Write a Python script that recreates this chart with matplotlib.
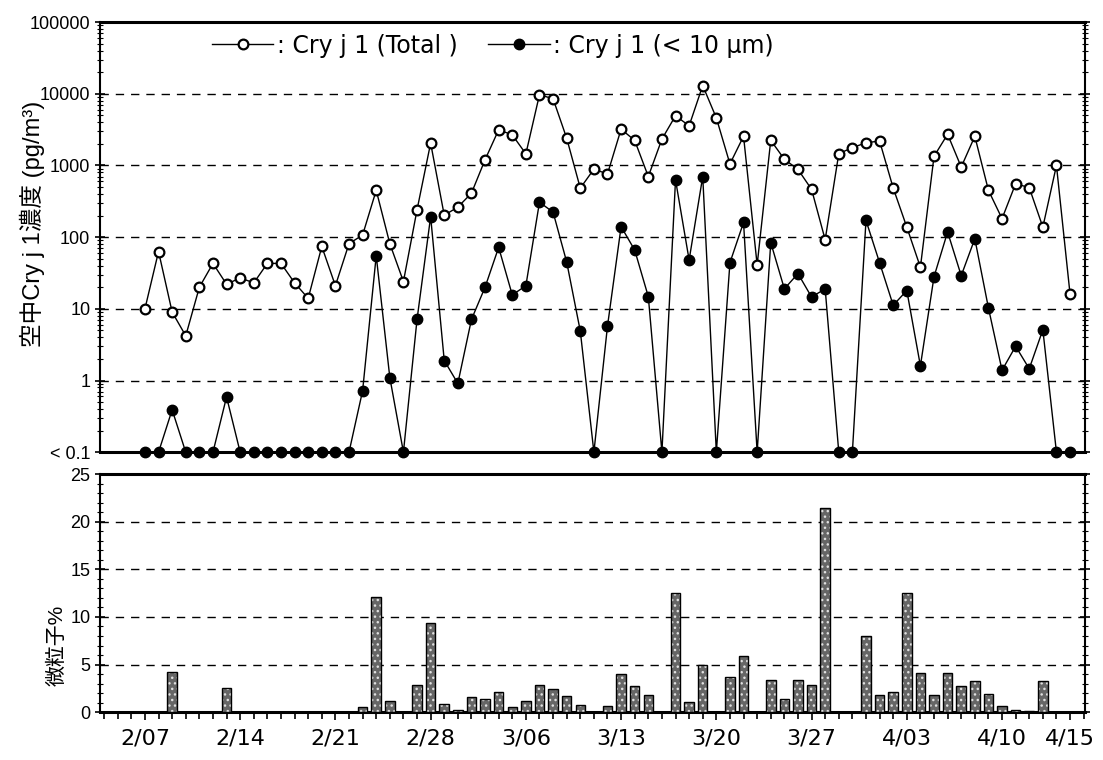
import numpy as np
import matplotlib
matplotlib.use("Agg")
import matplotlib.pyplot as plt
from matplotlib.ticker import FixedLocator, NullFormatter, MultipleLocator, LogLocator
from matplotlib.lines import Line2D

plt.rcParams['font.family'] = ['Liberation Sans', 'Noto Sans CJK JP', 'DejaVu Sans']
plt.rcParams['hatch.linewidth'] = 1.0

# 日付ラベル (2/07 から 4/15 まで毎日)
tick_pos = [0, 7, 14, 21, 28, 35, 42, 49, 56, 63, 68]
tick_labels = ['2/07', '2/14', '2/21', '2/28', '3/06', '3/13', '3/20', '3/27', '4/03', '4/10', '4/15']

# Cry j 1 (Total) pg/m3
total = [10, 63, 9, 4.2, 20, 43, 22, 27, 23, 43,
         43, 23, 14, 74, 21, 81, 107, 450, 81, 24,
         240, 2050, 202, 262, 410, 1200, 3140, 2670, 1450, 9700,
         8500, 2400, 482, 887, 760, 3210, 2230, 700, 2330, 4930,
         3570, 13000, 4600, 1050, 2550, 41, 2240, 1220, 880, 464,
         92, 1460, 1770, 2070, 2190, 484, 138, 38, 1340, 2720,
         950, 2550, 450, 181, 556, 490, 138, 1000, 16]

# Cry j 1 (< 10um) pg/m3, 0.1 = 検出限界未満
fine = [0.1, 0.1, 0.39, 0.1, 0.1, 0.1, 0.59, 0.1, 0.1, 0.1,
        0.1, 0.1, 0.1, 0.1, 0.1, 0.1, 0.72, 55, 1.1, 0.1,
        7.1, 193, 1.9, 0.91, 7.1, 20, 72, 15.6, 21, 307,
        223, 45, 4.9, 0.1, 5.75, 140, 66, 14.8, 0.1, 630,
        48, 700, 0.1, 44, 160, 0.1, 84, 19, 31, 14.6,
        19, 0.1, 0.1, 171, 44, 11.2, 18, 1.6, 28, 118,
        29, 95, 10.3, 1.39, 3.0, 1.46, 5.1, 0.1, 0.1]

# 微粒子 %
pct = [0, 0, 4.2, 0, 0, 0, 2.5, 0, 0, 0,
       0, 0, 0, 0, 0, 0, 0.5, 12.1, 1.2, 0,
       2.8, 9.4, 0.9, 0.25, 1.55, 1.4, 2.1, 0.5, 1.2, 2.9,
       2.4, 1.65, 0.8, 0, 0.6, 4.0, 2.7, 1.8, 0, 12.5,
       1.05, 5.0, 0, 3.7, 5.9, 0, 3.4, 1.4, 3.4, 2.9,
       21.4, 0, 0, 8.0, 1.8, 2.1, 12.5, 4.1, 1.8, 4.1,
       2.7, 3.3, 1.9, 0.6, 0.25, 0.1, 3.3, 0, 0]

x = np.arange(len(total))

fig = plt.figure(figsize=(11.03, 7.6), dpi=100)
ax1 = fig.add_axes([0.0907, 0.405, 0.893, 0.566])
ax2 = fig.add_axes([0.0907, 0.063, 0.893, 0.313])

xlim = (-3.3, 69.1)
dash = (0, (6, 5))

# --- 上段: 濃度 (log) ---
ax1.set_yscale('log')
ax1.set_ylim(0.1, 100000)
ax1.set_xlim(*xlim)
for v in [1, 10, 100, 1000, 10000]:
    ax1.axhline(v, color='black', lw=1.0, ls=dash, zorder=1)
ax1.plot(x, total, color='black', lw=1.0, marker='o', ms=7, mfc='white',
         mec='black', mew=1.6, clip_on=False, zorder=3)
ax1.plot(x, fine, color='black', lw=1.0, marker='o', ms=7.5, mfc='black',
         mec='black', clip_on=False, zorder=4)
ax1.yaxis.set_major_locator(FixedLocator([0.1, 1, 10, 100, 1000, 10000, 100000]))
ax1.set_yticklabels(['< 0.1', '1', '10', '100', '1000', '10000', '100000'])
ax1.yaxis.set_minor_locator(LogLocator(base=10, subs=np.arange(2, 10), numticks=20))
ax1.yaxis.set_minor_formatter(NullFormatter())
ax1.tick_params(axis='x', bottom=False, labelbottom=False)
ax1.tick_params(axis='y', which='major', direction='inout', length=7, width=1.2,
                labelsize=13, right=True)
ax1.tick_params(axis='y', which='minor', direction='inout', length=4, width=0.8, right=True)
ax1.set_ylabel('空中Cry j 1濃度 (pg/m³)', fontsize=17)
ax1.yaxis.set_label_coords(-0.056, 0.53)
for s in ['left', 'right']:
    ax1.spines[s].set_linewidth(1.5)
for s in ['top', 'bottom']:
    ax1.spines[s].set_linewidth(2.2)

h1 = Line2D([], [], color='black', lw=1.0, marker='o', ms=7, mfc='white', mec='black', mew=1.6)
h2 = Line2D([], [], color='black', lw=1.0, marker='o', ms=7.5, mfc='black', mec='black')
leg = ax1.legend([h1, h2], [': Cry j 1 (Total )', ': Cry j 1 (< 10 μm)'], ncol=2, frameon=False,
                 loc='center left', bbox_to_anchor=(0.104, 0.945),
                 prop={'family': 'DejaVu Sans', 'size': 17}, handlelength=2.6,
                 handletextpad=0.15, columnspacing=1.3, borderaxespad=0)

# --- 下段: 微粒子% ---
ax2.bar(x, pct, width=0.7, color='#666666', edgecolor='#e0e0e0', linewidth=0,
        hatch='...', zorder=3)
ax2.bar(x, pct, width=0.7, color='none', edgecolor='black', linewidth=1.0, zorder=4)
ax2.set_xlim(*xlim)
ax2.set_ylim(0, 25)
for v in [5, 10, 15, 20]:
    ax2.axhline(v, color='black', lw=1.0, ls=dash, zorder=1)
ax2.yaxis.set_major_locator(MultipleLocator(5))
ax2.yaxis.set_minor_locator(MultipleLocator(1))
ax2.tick_params(axis='y', which='major', direction='inout', length=7, width=1.2,
                labelsize=13, right=True)
ax2.tick_params(axis='y', which='minor', direction='inout', length=4, width=0.8, right=True)
ax2.set_xticks(tick_pos)
ax2.set_xticklabels(tick_labels, family='DejaVu Sans', fontsize=16)
ax2.xaxis.set_minor_locator(MultipleLocator(1))
ax2.tick_params(axis='x', which='major', direction='out', length=6, width=1.2, pad=6)
ax2.tick_params(axis='x', which='minor', direction='out', length=5, width=1.2)
ax2.set_ylabel('微粒子%', fontsize=15)
ax2.yaxis.set_label_coords(-0.034, 0.28)
for s in ['left', 'right']:
    ax2.spines[s].set_linewidth(1.5)
for s in ['top', 'bottom']:
    ax2.spines[s].set_linewidth(2.2)

fig.savefig('out.png', dpi=100)
